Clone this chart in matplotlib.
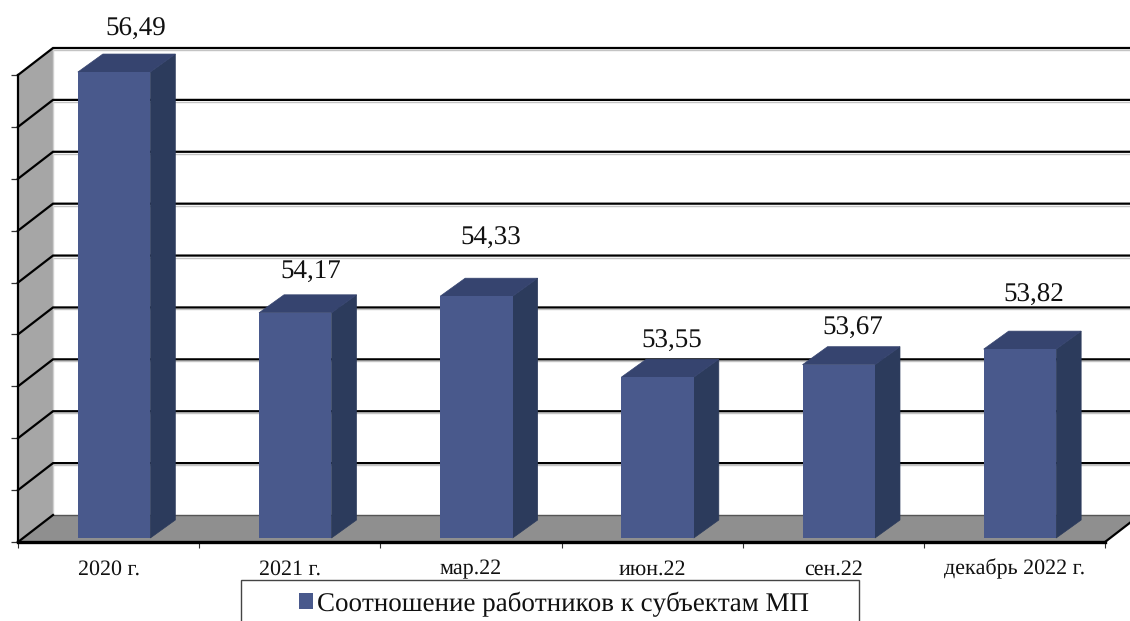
import numpy as np
import matplotlib
matplotlib.use("Agg")
import matplotlib.pyplot as plt
from matplotlib.patches import Polygon, Patch, Rectangle
from matplotlib.transforms import Affine2D, IdentityTransform

categories = ["2020 г.", "2021 г.", "мар.22", "июн.22", "сен.22", "декабрь 2022 г."]
values = [56.49, 54.17, 54.33, 53.55, 53.67, 53.82]
labels = ["56,49", "54,17", "54,33", "53,55", "53,67", "53,82"]
series_name = "Соотношение работников к субъектам МП"
y_levels = [52, 52.5, 53, 53.5, 54, 54.5, 55, 55.5, 56, 56.5]
y_min, y_max = 52, 56.5
# hand-placed data labels: pixel offset from the middle of each bar's top face
label_dx = [-3, -9, -11, -11, -11, -11]
label_dy = [25, 23, 40, 18, 18, 36]

W, H = 1130, 621
plt.rcParams["font.family"] = ["Liberation Serif", "DejaVu Serif"]
plt.rcParams["text.hinting"] = "no_hinting"
plt.rcParams["text.hinting_factor"] = 1
fig = plt.figure(figsize=(W / 100, H / 100), dpi=100, facecolor="white")
L, R, B, T = 18, 1105, 542, 75
ax = fig.add_axes([L / W, 1 - B / H, (R - L) / W, (B - T) / H])
ax.set_xlim(0, len(categories))
ax.set_ylim(y_min, y_max)
ax.patch.set_alpha(0)
for s in ["top", "right"]:
    ax.spines[s].set_visible(False)
ax.spines["left"].set_linewidth(1.6)
ax.spines["bottom"].set_linewidth(2.4)
ax.spines["left"].set_zorder(8)
ax.spines["bottom"].set_zorder(8)

# tick marks and category labels
ax.set_xticks(np.arange(len(categories) + 1))
ax.set_xticklabels([])
ax.set_xticks(np.arange(len(categories)) + 0.5, minor=True)
ax.set_xticklabels(categories, minor=True, fontsize=15.6, color="#111111", va="baseline")
ax.tick_params(axis="x", which="major", length=4, width=0.8, color="#333333")
ax.tick_params(axis="x", which="minor", length=0, pad=23.5)
ax.set_yticks(y_levels)
ax.set_yticklabels([])
ax.tick_params(axis="y", length=5, width=0.9, color="#333333")

# pixel offsets of the depth of the chart
DX, DY = 35, 27
to_back = ax.transData + Affine2D().translate(DX, DY)
bar_plane = ax.transData + Affine2D().translate(5.5, 4)
BAR_DX, BAR_DY = 25, 18

def pts(tr, *xy):
    return tr.transform(np.array(xy, dtype=float))

n = len(categories)
fig_tr = IdentityTransform()
# left wall, floor
wall = np.vstack([pts(ax.transData, (0, y_min), (0, y_max)), pts(to_back, (0, y_max), (0, y_min))])
ax.add_patch(Polygon(wall, closed=True, transform=fig_tr, facecolor="#a6a6a6", edgecolor="none", zorder=1, clip_on=False))
floor = np.vstack([pts(ax.transData, (0, y_min), (n, y_min)), pts(to_back, (n, y_min), (0, y_min))])
ax.add_patch(Polygon(floor, closed=True, transform=fig_tr, facecolor="#8f8f8f", edgecolor="none", zorder=1, clip_on=False))

# gridlines on the wall and back plane
for lv in y_levels:
    line = np.vstack([pts(ax.transData, (0, lv)), pts(to_back, (0, lv), (n, lv))])
    if lv != y_min:
        ax.plot(line[1:, 0], line[1:, 1] - 2, transform=fig_tr, color="#c4c4c4", lw=1.0, zorder=2, clip_on=False)
        ax.plot(line[:, 0], line[:, 1], transform=fig_tr, color="black", lw=1.6, zorder=3, clip_on=False, solid_joinstyle="miter")
    else:
        ax.plot(line[1:, 0], line[1:, 1], transform=fig_tr, color="#555555", lw=1.0, zorder=3, clip_on=False)
        ax.plot(line[:2, 0], line[:2, 1], transform=fig_tr, color="black", lw=1.6, zorder=3, clip_on=False)
# right front edge of the floor
edge = np.vstack([pts(ax.transData, (n, y_min)), pts(to_back, (n, y_min))])
ax.plot(edge[:, 0], edge[:, 1], transform=fig_tr, color="black", lw=1.6, zorder=3, clip_on=False)
# back wall left edge
ed = pts(to_back, (0, y_min), (0, y_max))
ax.plot(ed[:, 0], ed[:, 1], transform=fig_tr, color="#d0d0d0", lw=1.0, zorder=2, clip_on=False)

# bars
bw = 0.4
for i, (v, lab) in enumerate(zip(values, labels)):
    x0, x1 = i + 0.5 - bw / 2, i + 0.5 + bw / 2
    p = pts(bar_plane, (x0, y_min), (x1, y_min), (x1, v), (x0, v))
    off = np.array([BAR_DX, BAR_DY])
    ax.add_patch(Polygon([p[1], p[2], p[2] + off, p[1] + off], closed=True, transform=fig_tr,
                         facecolor="#2c3b5c", edgecolor="#2c3b5c", lw=0.5, zorder=4, clip_on=False))
    ax.add_patch(Polygon([p[3], p[2], p[2] + off, p[3] + off], closed=True, transform=fig_tr,
                         facecolor="#36446f", edgecolor="#36446f", lw=0.5, zorder=4, clip_on=False))
    ax.add_patch(Polygon(p, closed=True, transform=fig_tr, facecolor="#49598c",
                         edgecolor="none", zorder=5, clip_on=False))
    cx, ty = (p[2] + p[3]) / 2 + off
    ax.text(cx + label_dx[i], ty + label_dy[i], lab, transform=fig_tr, ha="center", va="center",
            fontsize=19.5, color="#111111", zorder=7, clip_on=False)

# legend box, running off the bottom of the figure
fig.add_artist(Rectangle((241 / W, -0.02), (859 - 241) / W, 1 - 580 / H + 0.02, transform=fig.transFigure,
                         facecolor="white", edgecolor="#444444", lw=1.0, zorder=9))
leg = fig.legend(handles=[Patch(facecolor="#49598c", edgecolor="none", label=series_name)],
                 loc="center", bbox_to_anchor=(554 / W, 1 - 604 / H), frameon=False,
                 fontsize=19.4, handlelength=0.52, handleheight=0.52, handletextpad=0.16,
                 labelcolor="#111111", borderpad=0)
leg.set_zorder(10)

fig.savefig("out.png", dpi=100, facecolor="white")
